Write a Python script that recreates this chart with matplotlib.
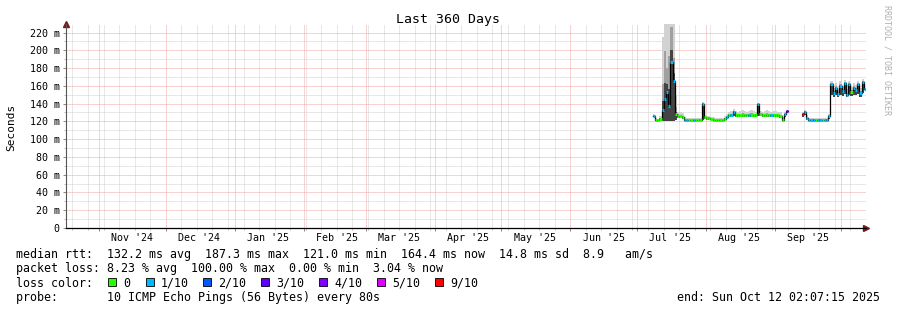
import numpy as np
import matplotlib
matplotlib.use("Agg")
from matplotlib import pyplot as plt
from datetime import datetime, timedelta

W, H = 897, 310
START = datetime(2024, 10, 17, 2, 7, 15)   # end minus 360 days
END = datetime(2025, 10, 12, 2, 7, 15)
MONO = "DejaVu Sans Mono"

# ---- data (one value per day, day counted from START) ----
first_day = 264
median = [126, 121, 121, 123, 133, 145, 153, 137, 187, 165, 128, 126, 126, 125, 122, 121,
          121, 121, 121, 121, 121, 122, 140, 125, 124, 124, 123, 122, 121, 121, 121, 121,
          123, 125, 127, 127, 131, 127, 127, 127, 127, 127, 127, 127, 127, 127, 127, 139,
          128, 127, 127, 127, 127, 127, 127, 127, 127, 126, 121, 128, 132,
          np.nan, np.nan, np.nan, np.nan, np.nan, np.nan,
          128, 131, 124, 122, 121, 122, 121, 121, 122, 121, 121, 122, 126,
          162, 152, 158, 151, 160, 154, 163, 150, 162, 153, 158, 155, 162, 152, 164, 156]
smoke_lo = [125, 120, 120, 121, 120, 120, 120, 120, 120, 120, 122, 124, 124, 123, 120, 120,
            120, 120, 120, 120, 120, 120, 122, 123, 122, 122, 121, 120, 120, 120, 120, 120,
            121, 123, 125, 125, 126, 125, 125, 125, 125, 125, 125, 125, 125, 125, 125, 126,
            126, 125, 125, 125, 125, 125, 125, 125, 125, 124, 120, 125, 128,
            np.nan, np.nan, np.nan, np.nan, np.nan, np.nan,
            125, 127, 122, 120, 120, 120, 120, 120, 120, 120, 120, 120, 123,
            150, 148, 150, 148, 150, 149, 151, 147, 150, 149, 150, 150, 151, 148, 152, 150]
smoke_hi = [128, 124, 123, 126, 215, 300, 230, 300, 300, 240, 150, 131, 130, 129, 125, 124,
            124, 124, 124, 124, 124, 124, 142, 127, 126, 126, 125, 125, 124, 124, 124, 124,
            126, 128, 131, 132, 134, 132, 131, 132, 133, 132, 131, 132, 133, 132, 131, 141,
            132, 131, 132, 133, 132, 131, 132, 132, 131, 130, 125, 130, 134,
            np.nan, np.nan, np.nan, np.nan, np.nan, np.nan,
            130, 133, 127, 124, 124, 124, 124, 124, 124, 124, 124, 124, 128,
            166, 158, 163, 157, 165, 160, 167, 156, 166, 159, 163, 161, 166, 158, 168, 162]
loss = [1, 0, 0, 0, 1, 1, 1, 1, 1, 1, 0, 0, 0, 0, 1, 1,
        0, 0, 1, 0, 0, 0, 1, 0, 0, 0, 0, 0, 0, 0, 0, 0,
        0, 1, 0, 1, 1, 0, 0, 0, 0, 0, 0, 1, 0, 0, 0, 1,
        0, 0, 0, 0, 0, 1, 0, 0, 0, 0, 0, 1, 4,
        0, 0, 0, 0, 0, 0,
        9, 1, 1, 1, 1, 1, 0, 1, 1, 0, 1, 1, 1,
        1, 1, 1, 1, 1, 1, 1, 1, 1, 0, 1, 1, 1, 1, 1, 1]

loss_levels = [0, 1, 2, 3, 4, 5, 9]
loss_names = ["0", "1/10", "2/10", "3/10", "4/10", "5/10", "9/10"]
loss_colors = ["#26ff00", "#00b8ff", "#0059ff", "#5e00ff", "#7e00ff", "#dd00ff", "#ff0000"]

y_ticks = [0, 20, 40, 60, 80, 100, 120, 140, 160, 180, 200, 220]
y_labels = ["0", "20 m", "40 m", "60 m", "80 m", "100 m", "120 m", "140 m",
            "160 m", "180 m", "200 m", "220 m"]
month_starts = [datetime(2024, 11, 1), datetime(2024, 12, 1), datetime(2025, 1, 1),
                datetime(2025, 2, 1), datetime(2025, 3, 1), datetime(2025, 4, 1),
                datetime(2025, 5, 1), datetime(2025, 6, 1), datetime(2025, 7, 1),
                datetime(2025, 8, 1), datetime(2025, 9, 1), datetime(2025, 10, 1)]
month_labels = ["Nov '24", "Dec '24", "Jan '25", "Feb '25", "Mar '25", "Apr '25",
                "May '25", "Jun '25", "Jul '25", "Aug '25", "Sep '25"]

legend_rtt = "median rtt:  132.2 ms avg  187.3 ms max  121.0 ms min  164.4 ms now  14.8 ms sd  8.9   am/s"
legend_loss = "packet loss: 8.23 % avg  100.00 % max  0.00 % min  3.04 % now"
legend_probe = "probe:       10 ICMP Echo Pings (56 Bytes) every 80s"
legend_end = "end: Sun Oct 12 02:07:15 2025"


def day(dt):
    return (dt - START).total_seconds() / 86400.0


med = np.array(median, dtype=float)
lo = np.array(smoke_lo, dtype=float)
hi = np.array(smoke_hi, dtype=float)
lc = np.array(loss)
days = first_day + np.arange(len(med))
span = day(END)

fig = plt.figure(figsize=(W / 100, H / 100), dpi=100)
fig.patch.set_facecolor("white")
ax = fig.add_axes([66 / W, (H - 228) / H, 800 / W, 204 / H])
ax.set_xlim(0, span)
ax.set_ylim(0, 229.6)

# grid
sundays = [day(datetime(2024, 10, 20) + timedelta(weeks=k)) for k in range(52)]
ax.set_xticks([day(m) for m in month_starts])
ax.set_xticks(sundays, minor=True)
ax.set_yticks(y_ticks)
ax.set_yticks(np.arange(10, 230, 20), minor=True)
ax.set_yticklabels(y_labels, family=MONO, fontsize=7.2)
ax.grid(which="minor", color="#d0d0d0", ls=(0, (1, 1)), lw=0.72)
ax.grid(which="major", color="#f3a5a5", ls=(0, (1, 1)), lw=0.72)
ax.set_axisbelow(True)
ax.tick_params(axis="both", which="major", length=2.5, width=0.72, color="#8a8a8a", pad=2)
ax.tick_params(axis="both", which="minor", length=1.5, width=0.72, color="#bcbcbc")
ax.tick_params(axis="x", labelbottom=False)
for s in ("top", "right"):
    ax.spines[s].set_visible(False)
ax.spines["left"].set_color("#555555")
ax.spines["left"].set_linewidth(0.8)
ax.spines["bottom"].set_color("black")
ax.spines["bottom"].set_linewidth(0.9)

# smoke
mid = med + (hi - med) * 0.35
inner = med + (hi - med) * 0.12
ax.fill_between(days, lo, hi, step="post", color="#d2d2d2", lw=0)
ax.fill_between(days, lo, mid, step="post", color="#a0a0a0", lw=0)
ax.fill_between(days, lo, inner, step="post", color="#444444", lw=0)

# median line + loss colour
ax.plot(days, med, drawstyle="steps-post", color="black", lw=0.9)
for lvl, col in zip(loss_levels, loss_colors):
    m = (lc == lvl) & ~np.isnan(med)
    if m.any():
        ax.hlines(med[m], days[m], days[m] + 1, colors=col, lw=2.2, capstyle="butt")

# axis arrows
ax.plot([1.0], [0], marker=">", color="#7a1a1a", ms=4, transform=ax.transAxes, clip_on=False)
ax.plot([0], [1.0], marker="^", color="#7a1a1a", ms=4, transform=ax.transAxes, clip_on=False)

# month labels centred mid-month
for ms, lab in zip(month_starts, month_labels):
    ax.text(day(ms) + 15, -11.5, lab, ha="center", va="center", family=MONO, fontsize=7.2)

fig.text(448 / W, 1 - 19 / H, "Last 360 Days", ha="center", va="center", family=MONO, fontsize=9.5)
fig.text(11 / W, 1 - 127 / H, "Seconds", rotation=90, ha="center", va="center",
         family=MONO, fontsize=8)
fig.text(887 / W, 1 - 5 / H, "RRDTOOL / TOBI OETIKER", rotation=270, ha="center", va="top",
         family=MONO, fontsize=6, color="#b0b0b0")

# legend block
fs = 8.4
fig.text(16 / W, 1 - 258 / H, legend_rtt, family=MONO, fontsize=fs, va="baseline")
fig.text(16 / W, 1 - 272.3 / H, legend_loss, family=MONO, fontsize=fs, va="baseline")
fig.text(16 / W, 1 - 286.7 / H, "loss color:", family=MONO, fontsize=fs, va="baseline")
box_x = [108, 146, 203, 261, 319, 377, 435]
for bx, name, col in zip(box_x, loss_names, loss_colors):
    fig.patches.append(plt.Rectangle((bx / W, 1 - 286 / H), 8 / W, 8 / H, transform=fig.transFigure,
                                     facecolor=col, edgecolor="black", lw=0.6))
    fig.text((bx + 15) / W, 1 - 286.7 / H, name, family=MONO, fontsize=fs, va="baseline")
fig.text(16 / W, 1 - 301 / H, legend_probe, family=MONO, fontsize=fs, va="baseline")
fig.text(880 / W, 1 - 301 / H, legend_end, family=MONO, fontsize=fs, va="baseline", ha="right")

fig.savefig("out.png", dpi=100)
